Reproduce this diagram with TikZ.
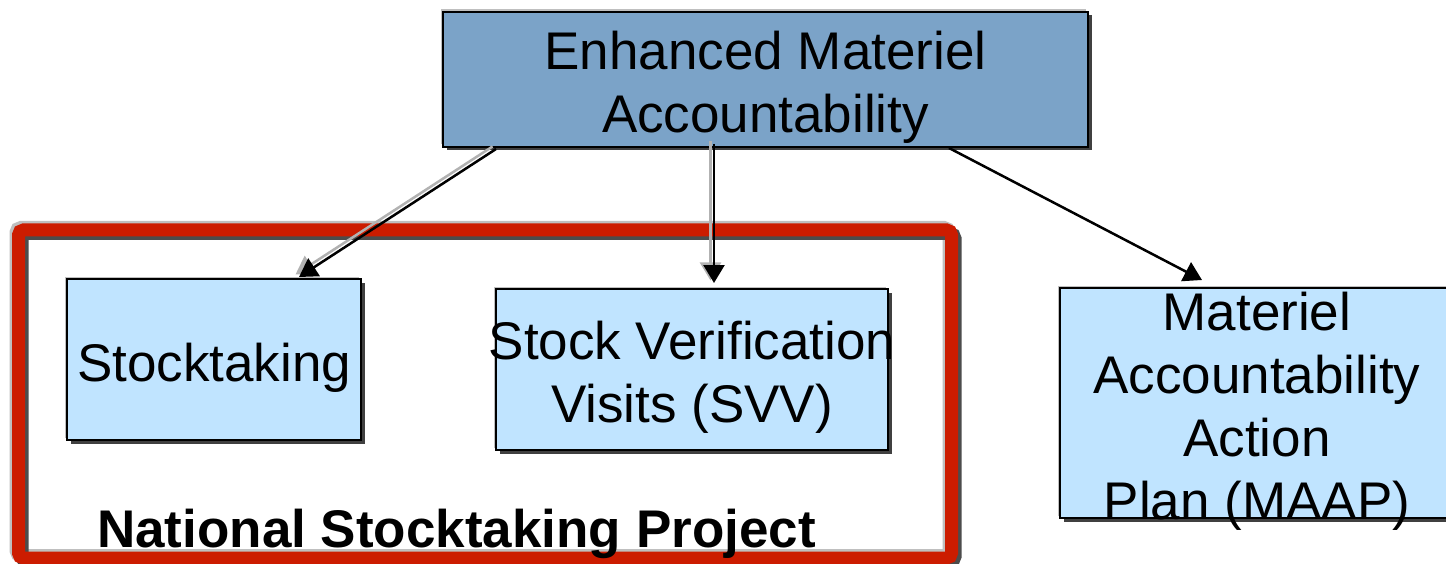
\documentclass[tikz,border=0pt]{standalone}
\usepackage{fontspec}
\setmainfont{Liberation Sans}
\usetikzlibrary{calc,shadows,arrows.meta}
\definecolor{topblue}{RGB}{123,163,200}
\definecolor{lightblue}{RGB}{192,228,255}
\definecolor{framered}{RGB}{204,28,0}
\begin{document}
\begin{tikzpicture}[x=1pt,y=-1pt,
  boxstyle/.style={draw=black, line width=2pt, rectangle, inner sep=0pt,
    general shadow={shadow xshift=-2.5pt, shadow yshift=2.5pt, fill=gray!50},
    general shadow={shadow xshift=3.5pt, shadow yshift=-3.5pt, fill=black!75}},
  txt/.style={align=center, inner sep=0pt, yshift=-8pt, font=\fontsize{53}{63}\selectfont},
  tip/.style={-{Triangle[length=18pt,width=21pt]}},
  arrline/.style={line width=2.5pt, draw=black, tip},
  ghostline/.style={line width=2.5pt, draw=gray!60, fill=gray!60, tip,
    transform canvas={xshift=-3.5pt,yshift=2.5pt}},
  frameline/.style={line width=13pt, rounded corners=5pt}
]
\useasboundingbox (0,0) rectangle (1446,564);
\clip (0,0) rectangle (1446,564);

% red frame (National Stocktaking Project)
\draw[frameline, draw=gray!50, transform canvas={xshift=-2.5pt,yshift=2.5pt}] (18.5,230) rectangle (951.5,558);
\draw[frameline, draw=black!70, transform canvas={xshift=3.5pt,yshift=-3.5pt}] (18.5,230) rectangle (951.5,558);
\draw[frameline, draw=framered] (18.5,230) rectangle (951.5,558);

% boxes
\node[boxstyle, fill=topblue, minimum width=645pt, minimum height=135pt] (top) at (765.5,79.5) {};
\node[boxstyle, fill=lightblue, minimum width=294pt, minimum height=161pt] (stk) at (214,359.5) {};
\node[boxstyle, fill=lightblue, minimum width=392pt, minimum height=161pt] (svv) at (692,369.5) {};
\node[boxstyle, fill=lightblue, minimum width=394pt, minimum height=230pt] (maap) at (1257,403) {};

% texts
\node[txt] (toptxt) at (top.center) {Enhanced Materiel\\Accountability};
\node[txt] (stktxt) at (stk.center) {Stocktaking};
\node[txt] (svvtxt) at (svv.center) {Stock Verification\\Visits (SVV)};
\node[txt] (maaptxt) at (maap.center) {Materiel\\Accountability\\Action\\Plan (MAAP)};
\node[inner sep=0pt, anchor=base west, font=\fontsize{53}{63}\selectfont\bfseries] (nsp) at (97,547) {National Stocktaking Project};

% connectors
\draw[ghostline] ($(top.south west)+(54,1)$) -- ($(stk.north west)+(233,-1)$);
\draw[arrline] ($(top.south west)+(54,1)$) -- ($(stk.north west)+(233,-1)$);
\draw[ghostline] ($(top.south west)+(272,-4)$) -- ($(svv.north west)+(219,-5)$);
\draw[arrline] ($(top.south west)+(272,-4)$) -- ($(svv.north west)+(219,-5)$);
\draw[arrline] ($(top.south west)+(507,0)$) -- ($(maap.north west)+(143,-7)$);
\end{tikzpicture}
\end{document}
